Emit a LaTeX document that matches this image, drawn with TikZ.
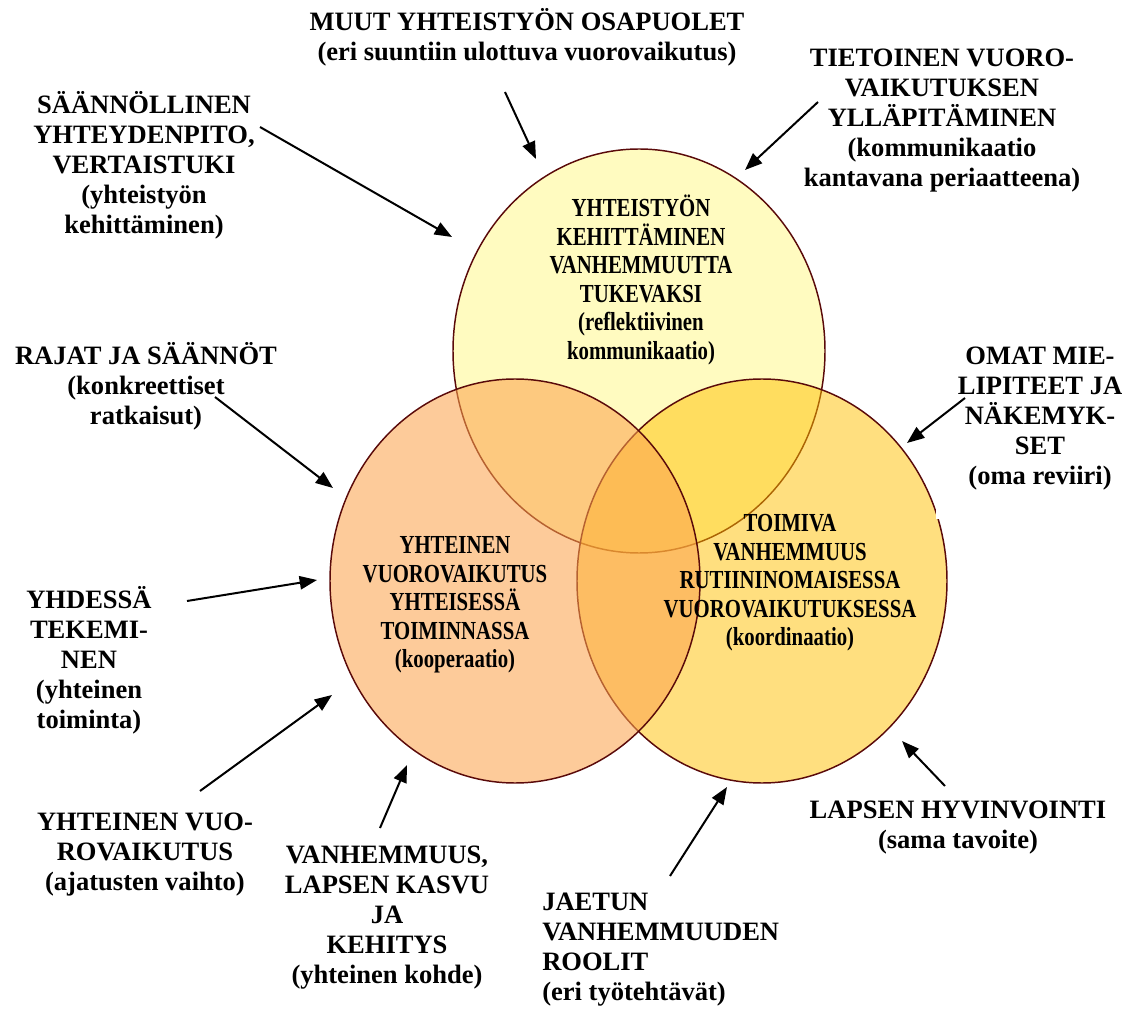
\documentclass[tikz,border=0pt]{standalone}
\usepackage{fontspec}
\setmainfont{Liberation Serif}
\newfontfamily\ringfont[FakeStretch=0.8]{Liberation Serif}
\usetikzlibrary{arrows.meta}

\definecolor{ringedge}{HTML}{5A0A0A}
\definecolor{topfill}{HTML}{FFFBC0}
\definecolor{rightfill}{HTML}{FFC000}
\definecolor{leftfill}{HTML}{FCA44E}

\newcommand{\outerfont}{\fontsize{19.9}{22.5}\selectfont\bfseries}
\newcommand{\innerfont}{\ringfont\fontsize{19.5}{21.4}\selectfont\bfseries}

\begin{document}
\begin{tikzpicture}[x=0.75pt, y=-0.75pt,
    lbl/.style={align=center, font=\outerfont, inner sep=0pt},
    inlbl/.style={align=center, font=\innerfont, inner sep=0pt},
    arr/.style={line width=1.5pt, -{Triangle[length=13pt,width=10pt]}},
    ring/.style={draw=ringedge, line width=1.1pt}]
			%%%%% START %%%%%
			\useasboundingbox (0,0) rectangle (1136,1012);
			
			% the three rings
			\draw[ring, fill=topfill] (639,351) ellipse [x radius=186, y radius=202];
			\draw[ring, fill=rightfill, fill opacity=0.5] (762,581) ellipse [x radius=185, y radius=202];
			\draw[ring, fill=leftfill, fill opacity=0.57] (515,581) ellipse [x radius=185, y radius=202];
			\fill[white] (936,330) rectangle (1136,519);
			
			\node[inlbl] (kehitys) at (641,280) {YHTEISTYÖN\\KEHITTÄMINEN\\VANHEMMUUTTA\\TUKEVAKSI\\(reflektiivinen\\kommunikaatio)};
			\node[inlbl] (kooperaatio) at (455,605) {YHTEINEN\\VUOROVAIKUTUS\\YHTEISESSÄ\\TOIMINNASSA\\(kooperaatio)};
			\node[inlbl] (koordinaatio) at (790,583) {TOIMIVA\\VANHEMMUUS\\RUTIININOMAISESSA\\VUOROVAIKUTUKSESSA\\(koordinaatio)};
			
			% labels round the rings
			\node[lbl] (muut) at (527,37) {MUUT YHTEISTYÖN OSAPUOLET\\(eri suuntiin ulottuva vuorovaikutus)};
			\node[lbl] (tietoinen) at (942,121) {TIETOINEN VUORO-\\VAIKUTUKSEN\\YLLÄPITÄMINEN\\(kommunikaatio\\kantavana periaatteena)};
			\node[lbl] (yhteydenpito) at (144,165) {SÄÄNNÖLLINEN\\YHTEYDENPITO,\\VERTAISTUKI\\(yhteistyön\\kehittäminen)};
			\node[lbl] (rajat) at (146,386) {RAJAT JA SÄÄNNÖT\\(konkreettiset\\ratkaisut)};
			\node[lbl] (omat) at (1040,419) {OMAT MIE-\\LIPITEET JA\\NÄKEMYK-\\SET\\(oma reviiri)};
			\node[lbl] (yhdessa) at (89,660) {YHDESSÄ\\TEKEMI-\\NEN\\(yhteinen\\toiminta)};
			\node[lbl] (ajatukset) at (145,855) {YHTEINEN VUO-\\ROVAIKUTUS\\(ajatusten vaihto)};
			\node[lbl] (kohde) at (387,918) {VANHEMMUUS,\\LAPSEN KASVU\\JA\\KEHITYS\\(yhteinen kohde)};
			\node[lbl, align=left, anchor=west] (roolit) at (542,950) {JAETUN\\VANHEMMUUDEN\\ROOLIT\\(eri työtehtävät)};
			\node[lbl] (hyvinvointi) at (958,828) {LAPSEN HYVINVOINTI\\(sama tavoite)};
			
			% arrow ends
			\coordinate (muutA) at (505,92);        \coordinate (muutB) at (536,159);
			\coordinate (tietoinenA) at (818,102);  \coordinate (tietoinenB) at (745,170);
			\coordinate (yhteydenA) at (260,127);   \coordinate (yhteydenB) at (452,237);
			\coordinate (rajatA) at (215,397);      \coordinate (rajatB) at (333,488);
			\coordinate (omatA) at (965,398);       \coordinate (omatB) at (907,443);
			\coordinate (yhdessaA) at (187,601);    \coordinate (yhdessaB) at (317,580);
			\coordinate (ajatusA) at (200,791);     \coordinate (ajatusB) at (332,695);
			\coordinate (kohdeA) at (380,828);      \coordinate (kohdeB) at (407,765);
			\coordinate (roolitA) at (670,876);     \coordinate (roolitB) at (727,787);
			\coordinate (hyvinA) at (945,786);      \coordinate (hyvinB) at (902,741);
			
			\draw[arr] (muutA) -- (muutB);
			\draw[arr] (tietoinenA) -- (tietoinenB);
			\draw[arr] (yhteydenA) -- (yhteydenB);
			\draw[arr] (rajatA) -- (rajatB);
			\draw[arr] (omatA) -- (omatB);
			\draw[arr] (yhdessaA) -- (yhdessaB);
			\draw[arr] (ajatusA) -- (ajatusB);
			\draw[arr] (kohdeA) -- (kohdeB);
			\draw[arr] (roolitA) -- (roolitB);
			\draw[arr] (hyvinA) -- (hyvinB);
			%%%%% END %%%%%
\end{tikzpicture}
\end{document}
